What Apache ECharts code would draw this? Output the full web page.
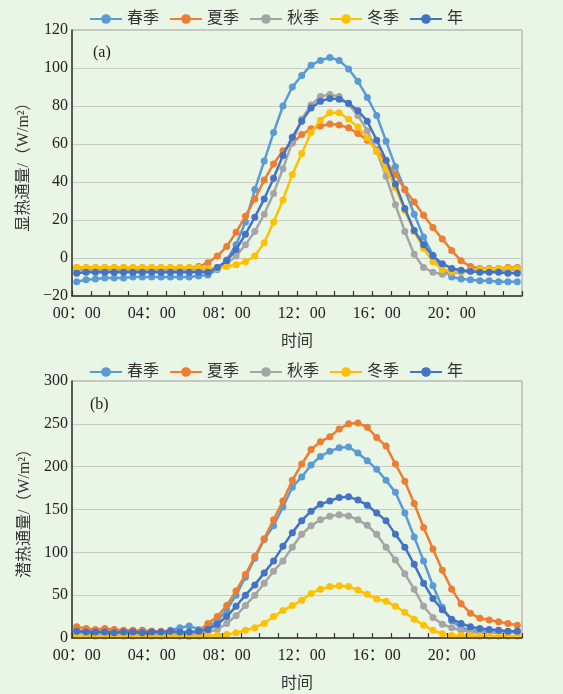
<!DOCTYPE html>
<html><head><meta charset="utf-8">
<script src="https://cdn.jsdelivr.net/npm/echarts@6/dist/echarts.min.js"></script>
<style>html,body{margin:0;padding:0;background:#e9f5e5;}#c{width:563px;height:694px;}</style>
</head><body><div id="c"></div>
<script>
// categories: half-hourly times
const times = ['00：00','00：30','01：00','01：30','02：00','02：30','03：00','03：30',
 '04：00','04：30','05：00','05：30','06：00','06：30','07：00','07：30',
 '08：00','08：30','09：00','09：30','10：00','10：30','11：00','11：30',
 '12：00','12：30','13：00','13：30','14：00','14：30','15：00','15：30',
 '16：00','16：30','17：00','17：30','18：00','18：30','19：00','19：30',
 '20：00','20：30','21：00','21：30','22：00','22：30','23：00','23：30'];
const seriesNames = ['春季','夏季','秋季','冬季','年'];

// (a) sensible heat flux, W/m2
const shSpring = [-12.5,-11.5,-11,-10.5,-10.5,-10.5,-10,-10,-10,-10,-10,-10,-10,-9.5,-9,-6,-1,7,19,36,51,66,80,90,96,101.5,104,105.5,104,99.5,93,84.5,75,61.5,48,36,23,11,1.5,-6,-10,-11,-11.5,-12,-12,-12.5,-12.5,-12.5];
const shSummer = [-5,-5,-5,-5,-5,-5,-5,-5,-5,-5,-5,-5,-5,-4.5,-2.5,1,6,13.5,22,31,41,49.5,56.5,60.5,65,68,69.5,70.5,70,68.5,65.5,62,57,51,44,36,29.5,22.5,16,10,4,-1.5,-4.5,-5.5,-5.5,-5.5,-5,-5];
const shAutumn = [-6.5,-6.5,-6.5,-6.5,-6.5,-6.5,-6.5,-6.5,-6.5,-6.5,-6.5,-6.5,-6.5,-6.5,-6,-5,-3,1,7,14,23,34,47,61,73,80.5,85,86,85,81,75,67,56,43,28,14,2,-5,-7.5,-8.5,-8,-7.5,-7,-6.5,-6,-6.5,-6.5,-6.5];
const shWinter = [-5,-5,-5,-5,-5,-5,-5,-5,-5,-5,-5,-5,-5,-5,-5.5,-5.5,-4.5,-3.5,-2,1,8,19,30.5,44,55,66,72.5,76.5,76.5,73,69,63,56,47,37,25,14,5,-2,-6,-7,-7,-6.5,-6,-6,-5.5,-5.5,-5.5];
const shYear = [-8,-7.5,-7.5,-7.5,-7.5,-7.5,-7.5,-7.5,-7.5,-7.5,-7.5,-7.5,-7.5,-7.5,-7.5,-5,-1.5,4.5,12.5,21.5,31,42,54,63.5,72,79,82.5,84,83.5,81.5,77.5,72,62,51.5,39,26,14.5,7,1,-3,-5.5,-6.5,-7,-7.5,-7.5,-7.5,-8,-8];

// (b) latent heat flux, W/m2
const lhSpring = [9,8,8,7,8,7,8,9,8,7,9,12,14,10,13,20,33,50,71,93,115,131,153,176,188,202,212,218,222,223,216,207,197,184,170,146,118,90,61,36,20,12,9,8,8,8,7,8];
const lhSummer = [13,11,10,11,10,9,9,8,8,8,8,6,2,8,17,25,38,55,74,95,116,138,160,184,203,220,229,235,244,250,251,246,234,224,203,183,157,129,104,79,57,40,29,23,21,19,17,15];
const lhAutumn = [6,5,5,5,5,5,5,5,5,5,5,5,5,5,7,10,17,26,38,50,64,78,90,106,121,131,138,142,144,142.5,138,131.5,121,106,91,75,57,37,24,16,12,9,7,6,6,6,6,6];
const lhWinter = [3,3,2,2,3,2,2,3,2,2,3,2,2,2,3,3,4,6,9,12,17,25,32,38,44,52,57,60,61,60,56,51,45.5,43,37,30,22,15,9,5,3,3,3,2,2,2,2,2];
const lhYear = [8,7,7,7,6,7,7,6,7,7,8,7,7,8,10,16,25,37,50,62,76,90,107,123,137,148,156,160,164,165,161,155,146,137,121,106,86,64,46,33,22,17,13,11,10,9,8,8];

const yTicksA = {min:-20, max:120, interval:20};
const yTicksB = {min:0, max:300, interval:50};

const colors = ['#5B9BD5','#ED7D31','#A5A5A5','#FFC000','#4472C4'];
const FONT = "'Liberation Serif','Noto Sans CJK SC',serif";

const chart = echarts.init(document.getElementById('c'), null, {renderer:'canvas'});

function mkX(gi){
  return {
    type:'category', gridIndex:gi, data:times, boundaryGap:true, position:'bottom',
    name:'时间', nameLocation:'middle', nameGap:38,
    nameTextStyle:{fontFamily:FONT, fontSize:16, color:'#333'},
    axisLine:{show:true, onZero:false, lineStyle:{color:'#333', width:1.5}},
    axisTick:{show:true, inside:true, interval:1, alignWithLabel:false, length:5,
      lineStyle:{color:'#333', width:1.2}},
    axisLabel:{interval:7, fontFamily:FONT, fontSize:16, color:'#222', margin:10},
    splitLine:{show:false},
    z:10
  };
}
function mkY(gi, t, name){
  return {
    type:'value', gridIndex:gi, min:t.min, max:t.max, interval:t.interval,
    name:name, nameLocation:'middle', nameGap:39,
    nameTextStyle:{fontFamily:FONT, fontSize:16, color:'#333'},
    axisLine:{show:true, onZero:false, lineStyle:{color:'#333', width:1.5}},
    axisTick:{show:false},
    axisLabel:{fontFamily:FONT, fontSize:16, color:'#222', margin:4,
      formatter:v=> v<0 ? '−'+Math.abs(v) : String(v)},
    splitLine:{show:true, lineStyle:{color:'#c5cbc3', width:1}}
  };
}
function mkLegend(top){
  return {
    top:top, left:84, itemWidth:32, itemHeight:12, itemGap:10,
    data:seriesNames,
    textStyle:{fontFamily:FONT, fontSize:16, color:'#333'}
  };
}
const dataA = [shSpring, shSummer, shAutumn, shWinter, shYear];
const dataB = [lhSpring, lhSummer, lhAutumn, lhWinter, lhYear];
const series = [];
[dataA, dataB].forEach((set, gi)=>{
  set.forEach((d, k)=>{
    series.push({
      name:seriesNames[k], type:'line', xAxisIndex:gi, yAxisIndex:gi,
      data:d, symbol:'circle', symbolSize:7, showSymbol:true, showAllSymbol:true,
      itemStyle:{color:colors[k]}, lineStyle:{color:colors[k], width:2.5},
      emphasis:{disabled:true}, silent:true, z:2+k
    });
  });
});

chart.setOption({
  backgroundColor:'#e9f5e5',
  animation:false,
  color:colors,
  legend:[mkLegend(6), mkLegend(359)],
  grid:[
    {left:72, right:41, top:30, height:266, show:true, borderColor:'#9a9a9a', borderWidth:1, backgroundColor:'transparent', z:0},
    {left:72, right:41, top:381, height:257, show:true, borderColor:'#9a9a9a', borderWidth:1, backgroundColor:'transparent', z:0}
  ],
  xAxis:[mkX(0), mkX(1)],
  yAxis:[mkY(0, yTicksA, '显热通量/（W/m²）'), mkY(1, yTicksB, '潜热通量/（W/m²）')],
  graphic:[
    {type:'text', left:93, top:45, style:{text:'(a)', font:"16px 'Liberation Serif'", fill:'#222'}},
    {type:'text', left:90, top:397, style:{text:'(b)', font:"16px 'Liberation Serif'", fill:'#222'}}
  ],
  series:series
});
</script></body></html>
